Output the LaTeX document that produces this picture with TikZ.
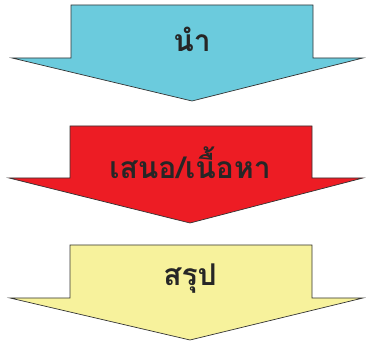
\documentclass[tikz,border=0pt]{standalone}
\usepackage{fontspec}
\newfontfamily\thaifont[Script=Thai]{Loma}
\definecolor{acyan}{HTML}{6BCBDD}
\definecolor{ared}{HTML}{ED1C24}
\definecolor{ayellow}{HTML}{F7F29C}
\tikzset{
  blockarrow/.style={draw=black!80, line width=0.7pt, line join=miter},
  lbl/.style={font=\thaifont\bfseries\fontsize{30}{34}\selectfont, text=black!85, inner sep=0pt}
}
\begin{document}
\begin{tikzpicture}[x=1pt,y=-1pt]
\useasboundingbox (0,0) rectangle (367,344);
% arrow 1
\filldraw[blockarrow, fill=acyan] (71,5) -- (313,5) -- (313,58) -- (363,58) -- (192,101) -- (12,58) -- (71,58) -- cycle;
\node[lbl] (t1) at (192,39) {นำ};
% arrow 2
\filldraw[blockarrow, fill=ared] (70,126) -- (312,126) -- (312,178) -- (363,178) -- (190,223) -- (9,178) -- (70,178) -- cycle;
\node[lbl] (t2) at (190,163) {เสนอ/เนื้อหา};
% arrow 3
\filldraw[blockarrow, fill=ayellow] (70,245) -- (312,245) -- (312,298) -- (363,298) -- (190,340) -- (10,298) -- (70,298) -- cycle;
\node[lbl] (t3) at (190,279) {สรุป};
\end{tikzpicture}
\end{document}
